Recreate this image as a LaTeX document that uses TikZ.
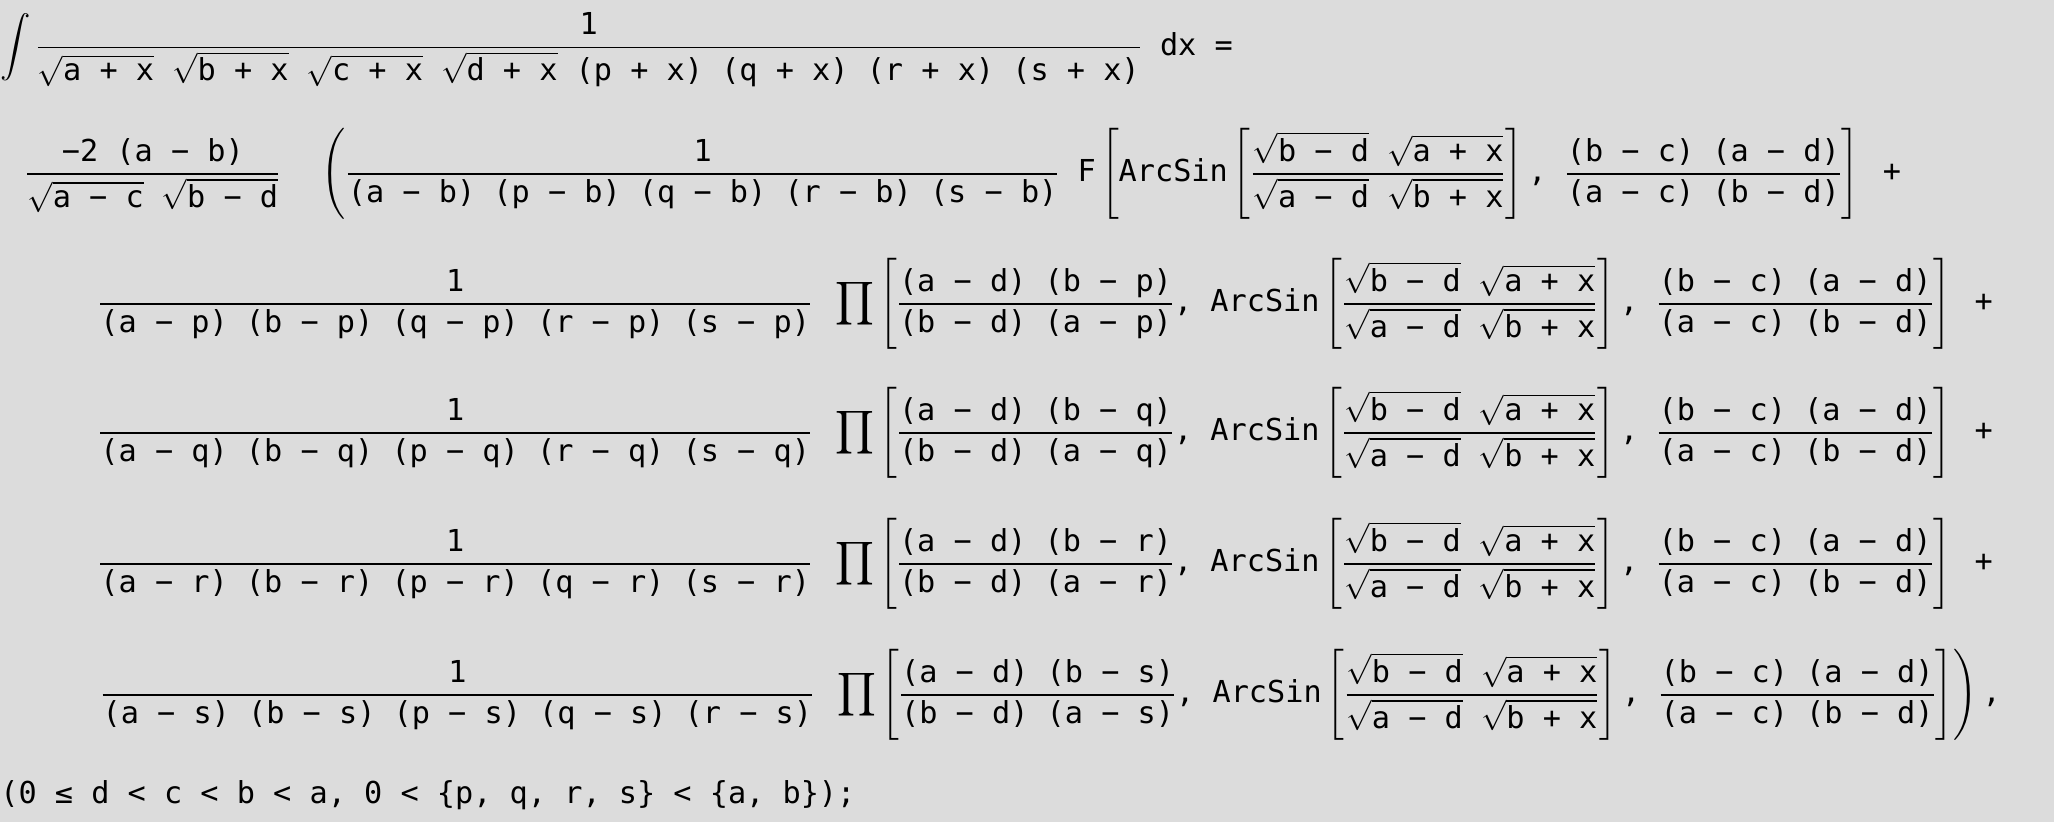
\documentclass[tikz,border=0pt]{standalone}
\usepackage{amsmath}
\usepackage{fontspec}
\setmainfont{DejaVu Sans Mono}
\definecolor{bgc}{RGB}{220,220,220}
\newcommand{\tx}[1]{\text{#1}}
\newcommand{\asn}{\tx{ArcSin}\left[\frac{\sqrt{\tx{b − d}}\ \sqrt{\tx{a + x}}}{\sqrt{\tx{a − d}}\ \sqrt{\tx{b + x}}}\right]\tx{, }\frac{\tx{(b − c) (a − d)}}{\tx{(a − c) (b − d)}}}
\newcommand{\prow}[2]{\frac{\tx{1}}{\tx{#1}}\ \prod\left[\frac{\tx{(a − d) (b − #2)}}{\tx{(b − d) (a − #2)}}\tx{, }\asn\right]}
\tikzset{expr/.style={anchor=west,inner sep=0pt,font=\fontsize{17.2}{20}\selectfont}}
\begin{document}
\begin{tikzpicture}[x=0.02cm,y=-0.02cm]
\fill[bgc] (0,0) rectangle (2054,822);
\node[expr] (l1) at (0,50) {$\displaystyle\int\frac{\tx{1}}{\sqrt{\tx{a + x}}\ \sqrt{\tx{b + x}}\ \sqrt{\tx{c + x}}\ \sqrt{\tx{d + x}}\ \tx{(p + x) (q + x) (r + x) (s + x)}}\ \tx{dx =}$};
\node[expr] (l2) at (25,174) {$\displaystyle\frac{\tx{−2 (a − b)}}{\sqrt{\tx{a − c}}\ \sqrt{\tx{b − d}}}\ \ \left(\frac{\tx{1}}{\tx{(a − b) (p − b) (q − b) (r − b) (s − b)}}\ \tx{F}\left[\asn\right]\tx{ +}\right.$};
\node[expr] (l3) at (98,304) {$\displaystyle\prow{(a − p) (b − p) (q − p) (r − p) (s − p)}{p}\tx{ +}$};
\node[expr] (l4) at (98,433) {$\displaystyle\prow{(a − q) (b − q) (p − q) (r − q) (s − q)}{q}\tx{ +}$};
\node[expr] (l5) at (98,564) {$\displaystyle\prow{(a − r) (b − r) (p − r) (q − r) (s − r)}{r}\tx{ +}$};
\node[expr] (l6) at (98,695) {$\displaystyle\left.\prow{(a − s) (b − s) (p − s) (q − s) (r − s)}{s}\right)\tx{,}$};
\node[expr] (l7) at (0,795) {(0 ≤ d < c < b < a, 0 < \{p, q, r, s\} < \{a, b\});};
\end{tikzpicture}
\end{document}
